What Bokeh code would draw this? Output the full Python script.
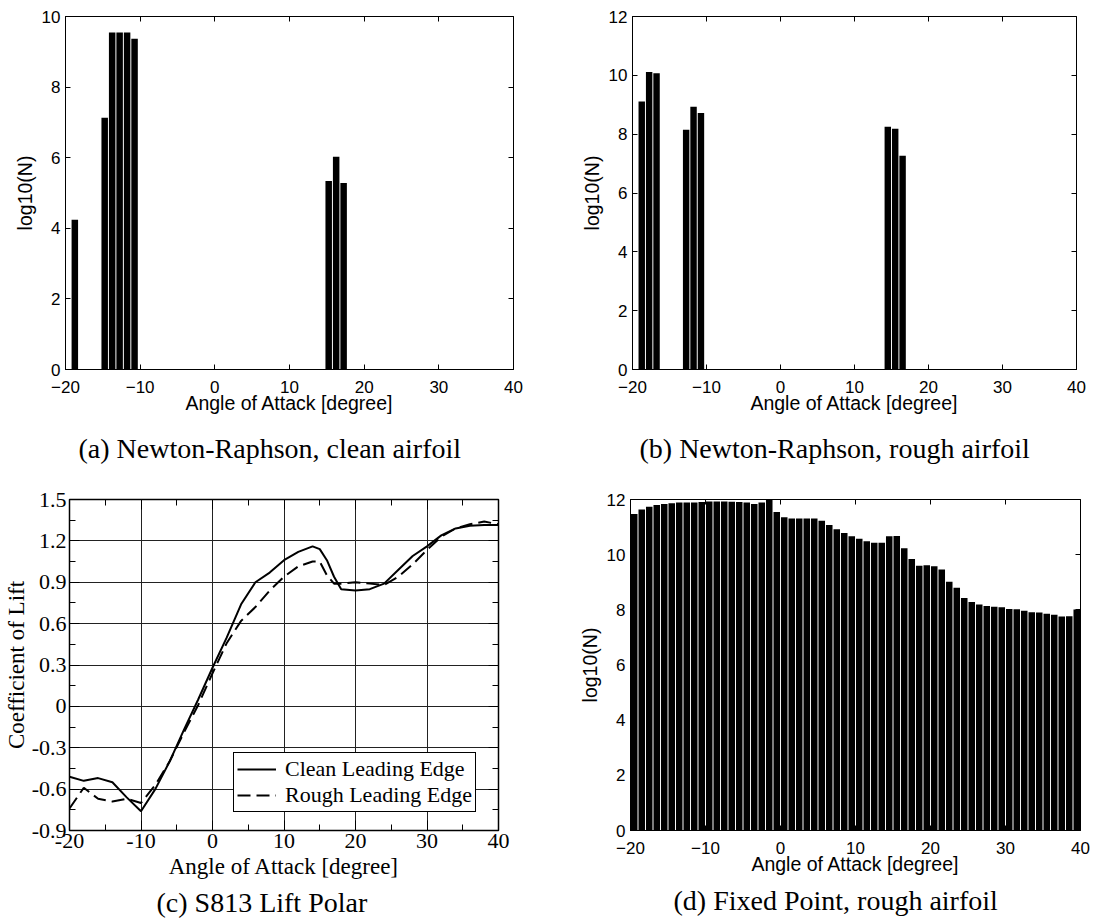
from bokeh.plotting import figure
from bokeh.layouts import column, row
from bokeh.models import (LinearAxis, FixedTicker, Range1d, Title, Legend,
                          LegendItem, CustomJSTickFormatter)
from bokeh.embed import file_html
from bokeh.resources import INLINE

SANS = "Liberation Sans"
SERIF = "Liberation Serif"

# ---- data -------------------------------------------------------------
# (a) Newton-Raphson, clean airfoil: log10 of iteration count per angle bin
a_angle = [-18.75, -14.75, -13.75, -12.75, -11.75, -10.75, 15.25, 16.25, 17.25]
a_log10n = [4.24, 7.13, 9.55, 9.55, 9.55, 9.37, 5.34, 6.03, 5.28]

# (b) Newton-Raphson, rough airfoil
b_angle = [-18.75, -17.75, -16.75, -12.75, -11.75, -10.75, 14.5, 15.5, 16.5]
b_log10n = [9.11, 10.11, 10.07, 8.15, 8.93, 8.72, 8.25, 8.18, 7.27]

# (c) S813 lift polar
c_angle = [-20, -18, -16, -14, -12, -10, -8, -6, -4, -2, 0, 2, 4, 6, 8, 10,
           12, 14, 15, 16, 17, 18, 20, 22, 24, 26, 28, 30, 32, 34, 36, 38, 40]
c_clean = [-0.51, -0.54, -0.52, -0.55, -0.66, -0.76, -0.60, -0.40, -0.17, 0.05,
           0.28, 0.50, 0.74, 0.90, 0.97, 1.06, 1.12, 1.16, 1.14, 1.06, 0.94,
           0.85, 0.84, 0.85, 0.89, 0.99, 1.09, 1.16, 1.24, 1.29, 1.31, 1.315, 1.315]
c_rough = [-0.74, -0.59, -0.67, -0.69, -0.67, -0.70, -0.57, -0.40, -0.19, 0.01,
           0.24, 0.46, 0.62, 0.72, 0.84, 0.94, 1.015, 1.05, 1.05, 0.95, 0.89,
           0.89, 0.90, 0.89, 0.88, 0.94, 1.03, 1.135, 1.23, 1.29, 1.32, 1.34, 1.32]

# (d) Fixed Point, rough airfoil: one bar per degree
d_angle = [-19.5, -18.5, -17.5, -16.5, -15.5, -14.5, -13.5, -12.5, -11.5, -10.5,
           -9.5, -8.5, -7.5, -6.5, -5.5, -4.5, -3.5, -2.5, -1.5, -0.5,
           0.5, 1.5, 2.5, 3.5, 4.5, 5.5, 6.5, 7.5, 8.5, 9.5,
           10.5, 11.5, 12.5, 13.5, 14.5, 15.5, 16.5, 17.5, 18.5, 19.5,
           20.5, 21.5, 22.5, 23.5, 24.5, 25.5, 26.5, 27.5, 28.5, 29.5,
           30.5, 31.5, 32.5, 33.5, 34.5, 35.5, 36.5, 37.5, 38.5, 39.5]
d_log10n = [11.47, 11.64, 11.74, 11.80, 11.84, 11.86, 11.89, 11.89, 11.89, 11.91,
            11.93, 11.93, 11.93, 11.92, 11.91, 11.89, 11.84, 11.89, 12.03, 11.55,
            11.36, 11.31, 11.31, 11.31, 11.31, 11.23, 11.08, 10.92, 10.79, 10.67,
            10.58, 10.49, 10.43, 10.43, 10.67, 10.68, 10.23, 9.84, 9.60, 9.62,
            9.58, 9.46, 9.02, 8.80, 8.43, 8.28, 8.19, 8.14, 8.11, 8.09,
            8.03, 8.02, 7.97, 7.91, 7.90, 7.86, 7.82, 7.76, 7.77, 8.01]

x_ticks = [-20, -10, 0, 10, 20, 30, 40]
x_minor = [-15, -5, 5, 15, 25, 35]
y_ticks_10 = [0, 2, 4, 6, 8, 10]
y_ticks_12 = [0, 2, 4, 6, 8, 10, 12]
c_y_ticks = [-0.9, -0.6, -0.3, 0, 0.3, 0.6, 0.9, 1.2, 1.5]
c_y_minor = [-0.75, -0.45, -0.15, 0.15, 0.45, 0.75, 1.05, 1.35]

TOP_H = 468
BOTTOM_H = 919 - TOP_H
FIG_W = 547


def blank_axis(ticker, tick_in, minor_in=0):
    """Axis that only carries inward tick marks (for the top/right box edges)."""
    return LinearAxis(ticker=ticker, formatter=CustomJSTickFormatter(code="return ''"),
                      major_label_text_font_size="0px", major_label_standoff=0,
                      axis_line_color=None, major_tick_in=tick_in, major_tick_out=0,
                      minor_tick_in=minor_in, minor_tick_out=0,
                      major_tick_line_color="black", minor_tick_line_color="black")


def spacer(size):
    """Label-less axis with one white outward tick: it only reserves a gap
    between the x-axis label and the caption."""
    return LinearAxis(ticker=FixedTicker(ticks=[39.9]),
                      formatter=CustomJSTickFormatter(code="return ''"),
                      major_label_text_font_size="0px", major_label_standoff=0,
                      axis_line_color=None, major_tick_line_color="white",
                      minor_tick_line_color=None, major_tick_in=0,
                      major_tick_out=size, minor_tick_in=0, minor_tick_out=0)


def caption(p, text, offset, gap):
    if gap > 0:
        p.add_layout(spacer(gap), "below")
    p.add_layout(Title(text=text, align="left", offset=offset, standoff=0,
                       vertical_align="top", text_font=SERIF,
                       text_font_size="28px", text_font_style="normal",
                       text_color="black"), "below")


def bar_panel(height, borders, y_end, y_ticks, angles, vals):
    left, right, top, bottom = borders
    p = figure(width=FIG_W, height=height, x_range=Range1d(-20, 40),
               y_range=Range1d(0, y_end), output_backend="svg",
               toolbar_location=None, tools="",
               min_border_left=left, min_border_right=right,
               min_border_top=top, min_border_bottom=bottom)
    p.grid.visible = False
    p.outline_line_color = "black"
    p.outline_line_width = 1
    p.outline_line_alpha = 1
    p.background_fill_color = "white"
    p.border_fill_color = "white"

    p.vbar(x=angles, top=vals, bottom=0, width=0.87,
           fill_color="black", line_color=None)

    xa = p.xaxis[0]
    xa.ticker = FixedTicker(ticks=x_ticks)
    xa.major_label_overrides = {-20: "\u221220", -10: "\u221210"}
    ya = p.yaxis[0]
    ya.ticker = FixedTicker(ticks=y_ticks)
    for ax in (xa, ya):
        ax.major_tick_in = 5
        ax.major_tick_out = 0
        ax.minor_tick_line_color = None
        ax.axis_line_color = "black"
        ax.major_tick_line_color = "black"
        ax.major_label_text_font = SANS
        ax.major_label_text_font_size = "17px"
        ax.major_label_text_color = "black"
        ax.axis_label_text_font = SANS
        ax.axis_label_text_font_size = "19.5px"
        ax.axis_label_text_font_style = "normal"
        ax.axis_label_text_color = "black"
    xa.axis_label = "Angle of Attack [degree]"
    xa.major_label_standoff = 11
    xa.axis_label_standoff = -4
    ya.axis_label = "log10(N)"
    ya.major_label_standoff = 5
    ya.axis_label_standoff = 3

    p.add_layout(blank_axis(FixedTicker(ticks=x_ticks), 5), "above")
    p.add_layout(blank_axis(FixedTicker(ticks=y_ticks), 5), "right")
    return p


pa = bar_panel(TOP_H, (65, 34, 15, TOP_H - 369), 10, y_ticks_10, a_angle, a_log10n)
caption(pa, "(a) Newton-Raphson, clean airfoil", 13, 16)

pb = bar_panel(TOP_H, (85, 18, 16, TOP_H - 369), 12, y_ticks_12, b_angle, b_log10n)
caption(pb, "(b) Newton-Raphson, rough airfoil", 7, 16)

pd = bar_panel(BOTTOM_H, (83, 14, 477 - TOP_H, 919 - 830), 12, y_ticks_12, d_angle, d_log10n)
caption(pd, "(d) Fixed Point, rough airfoil", 43, 7)

# ---- (c) lift polar --------------------------------------------------
cl, cr, ct, cb = 68, 49, 499 - TOP_H, 919 - 831
pc = figure(width=FIG_W, height=BOTTOM_H, x_range=Range1d(-20, 40),
            y_range=Range1d(-0.9, 1.5), output_backend="svg",
            toolbar_location=None, tools="",
            min_border_left=cl, min_border_right=cr,
            min_border_top=ct, min_border_bottom=cb)
pc.outline_line_color = "black"
pc.outline_line_width = 1.5
pc.outline_line_alpha = 1
pc.background_fill_color = "white"
pc.border_fill_color = "white"

cx = pc.xaxis[0]
cy = pc.yaxis[0]
cx.ticker = FixedTicker(ticks=x_ticks, minor_ticks=x_minor)
cy.ticker = FixedTicker(ticks=c_y_ticks, minor_ticks=c_y_minor)
cx.major_label_overrides = {t: str(t) for t in x_ticks}
cy.major_label_overrides = {-0.9: "-0.9", -0.6: "-0.6", -0.3: "-0.3", 0: "0",
                            0.3: "0.3", 0.6: "0.6", 0.9: "0.9", 1.2: "1.2", 1.5: "1.5"}
for ax in (cx, cy):
    ax.major_tick_in = 10
    ax.major_tick_out = 0
    ax.minor_tick_in = 6
    ax.minor_tick_out = 0
    ax.axis_line_color = "black"
    ax.major_tick_line_color = "black"
    ax.minor_tick_line_color = "black"
    ax.major_label_text_font = SERIF
    ax.major_label_text_font_size = "22px"
    ax.major_label_text_color = "black"
    ax.axis_label_text_font = SERIF
    ax.axis_label_text_font_size = "23px"
    ax.axis_label_text_font_style = "normal"
    ax.axis_label_text_color = "black"
cx.axis_label = "Angle of Attack [degree]"
cx.major_label_standoff = 3
cx.axis_label_standoff = 3
cy.axis_label = "Coefficient of Lift"
cy.major_label_standoff = 3
cy.axis_label_standoff = 0

pc.xgrid.ticker = FixedTicker(ticks=x_ticks)
pc.ygrid.ticker = FixedTicker(ticks=c_y_ticks)
for g in (pc.xgrid[0], pc.ygrid[0]):
    g.grid_line_color = "#222222"
    g.grid_line_width = 1
    g.grid_line_alpha = 1

pc.add_layout(blank_axis(FixedTicker(ticks=x_ticks, minor_ticks=x_minor), 10, 6), "above")
pc.add_layout(blank_axis(FixedTicker(ticks=c_y_ticks, minor_ticks=c_y_minor), 10, 6), "right")

r_clean = pc.line(c_angle, c_clean, line_color="black", line_width=2)
r_rough = pc.line(c_angle, c_rough, line_color="black", line_width=2, line_dash="13 6")

legend = Legend(items=[LegendItem(label="Clean Leading Edge", renderers=[r_clean]),
                       LegendItem(label="Rough Leading Edge", renderers=[r_rough])],
                location=(164, 18), margin=0, padding=3, spacing=0,
                glyph_width=39, glyph_height=20, label_height=20, label_standoff=9,
                label_text_font=SERIF, label_text_font_size="22px",
                label_text_color="black",
                border_line_color="black", border_line_width=1.5, border_line_alpha=1,
                background_fill_color="white", background_fill_alpha=1)
pc.add_layout(legend)

caption(pc, "(c) S813 Lift Polar", 87, 5)

layout = column(row(pa, pb), row(pc, pd))

with open("out.html", "w") as f:
    f.write(file_html(layout, INLINE))
